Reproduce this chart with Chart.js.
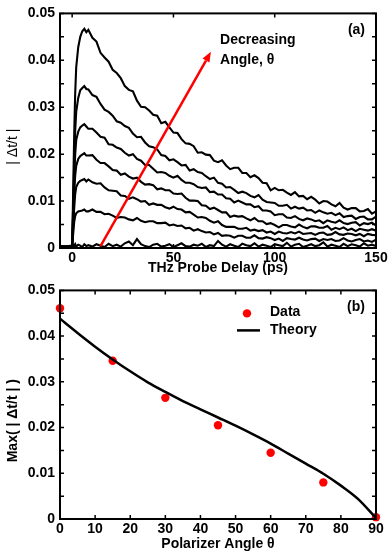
<!DOCTYPE html>
<html>
<head>
<meta charset="utf-8">
<script src="https://cdn.jsdelivr.net/npm/chart.js@4.4.1/dist/chart.umd.min.js"></script>
<style>
  html, body { margin: 0; padding: 0; background: #fff; }
  canvas { display: block; }
</style>
</head>
<body>
<canvas id="panelA" width="391" height="277"></canvas>
<canvas id="panelB" width="391" height="276"></canvas>
<script>
// ---- panel (a): transient traces, |dt/t| in units of 1e-4 ----
const delayPs = [-6, -5, -4, -3, -2, -1, 0, 0.5, 1, 1.5, 2, 3, 4, 5, 6, 7,
  8, 10, 12, 14, 16, 18, 20, 22, 24, 26, 28, 30, 32, 34, 36, 38, 40, 42, 44, 46,
  48, 50, 52, 54, 56, 58, 60, 62, 64, 66, 68, 70, 72, 74, 76, 78, 80, 82, 84, 86,
  88, 90, 92, 94, 96, 98, 100, 102, 104, 106, 108, 110, 112, 114, 116, 118, 120, 122, 124, 126,
  128, 130, 132, 134, 136, 138, 140, 142, 144, 146, 148, 150];

const trace0 = [3, 2, 4, 2, 3, 2, 5, 120, 240, 330, 385, 428, 450, 462, 467, 460,
  465, 448, 440, 416, 406, 397, 380, 373, 362, 345, 337, 334, 314, 301, 300, 293, 284, 282, 266, 269,
  257, 246, 245, 232, 223, 222, 217, 203, 204, 199, 198, 186, 183, 187, 176, 168, 171, 171, 160, 160,
  151, 155, 149, 139, 138, 123, 128, 123, 124, 118, 113, 119, 110, 111, 104, 109, 103, 95, 100, 99,
  93, 89, 96, 86, 82, 85, 85, 78, 79, 83, 73, 78];
const trace15 = [2, 4, 1, 3, 2, 4, 3, 90, 180, 250, 290, 320, 336, 341, 345, 339,
  338, 326, 322, 307, 295, 290, 282, 270, 267, 260, 256, 244, 236, 237, 225, 217, 215, 210, 198, 196,
  187, 189, 183, 176, 177, 165, 168, 162, 160, 153, 147, 150, 139, 137, 129, 130, 124, 117, 120, 117,
  111, 108, 113, 103, 98, 97, 96, 90, 90, 92, 84, 88, 84, 86, 80, 81, 75, 80, 76, 73,
  75, 70, 74, 66, 68, 69, 62, 66, 67, 61, 61, 67];
const trace30 = [3, 1, 3, 2, 4, 2, 3, 75, 145, 200, 230, 248, 257, 261, 264, 259,
  254, 254, 246, 237, 235, 221, 220, 214, 211, 203, 197, 200, 190, 186, 177, 177, 169, 161, 162, 160,
  154, 150, 154, 145, 139, 139, 136, 130, 128, 129, 119, 120, 114, 114, 106, 105, 97, 101, 97, 93,
  93, 87, 89, 80, 80, 78, 70, 72, 72, 65, 64, 68, 62, 59, 63, 61, 57, 59, 53, 59,
  56, 54, 59, 53, 51, 54, 55, 48, 53, 51, 54, 48];
const trace45 = [2, 4, 2, 1, 3, 2, 4, 60, 115, 155, 175, 190, 196, 199, 202, 197,
  197, 198, 188, 181, 181, 174, 166, 165, 156, 159, 152, 148, 150, 141, 135, 136, 134, 125, 127, 123,
  123, 116, 115, 116, 107, 101, 101, 100, 91, 90, 83, 86, 81, 76, 76, 66, 69, 67, 68, 63,
  59, 64, 57, 57, 51, 53, 49, 44, 49, 49, 46, 44, 50, 45, 42, 46, 46, 43, 43, 47,
  39, 43, 40, 44, 38, 41, 36, 41, 39, 37, 40, 37];
const trace60 = [3, 2, 3, 4, 2, 3, 4, 45, 85, 115, 130, 139, 143, 145, 147, 142,
  146, 140, 137, 138, 129, 123, 122, 121, 112, 111, 105, 108, 104, 99, 100, 92, 95, 92, 92, 87,
  84, 88, 83, 82, 76, 77, 71, 65, 66, 64, 58, 54, 57, 49, 45, 45, 45, 41, 41, 43,
  37, 39, 36, 38, 33, 35, 30, 35, 32, 31, 34, 31, 35, 30, 31, 32, 28, 32, 33, 28,
  29, 34, 29, 28, 31, 30, 27, 30, 25, 30, 28, 27];
const trace75 = [2, 3, 1, 3, 2, 4, 3, 30, 55, 68, 74, 78, 79, 80, 82, 78,
  78, 82, 77, 77, 72, 73, 69, 64, 66, 65, 61, 59, 64, 58, 55, 57, 57, 53, 53, 54,
  48, 50, 47, 48, 42, 43, 37, 40, 36, 33, 34, 29, 32, 26, 27, 26, 22, 26, 26, 22,
  22, 27, 21, 20, 23, 21, 17, 20, 15, 21, 19, 18, 22, 18, 16, 19, 20, 15, 19, 17,
  19, 15, 16, 21, 16, 14, 17, 19, 14, 16, 13, 18];
const trace90 = [2, 4, 1, 3, 2, 5, 3, 6, 4, 8, 3, 7, 5, 2, 8, 4,
  6, 3, 8, 5, 2, 9, 4, 7, 3, 10, 14, 6, 19, 8, 4, 2, 7, 9, 3, 5,
  8, 2, 6, 10, 4, 3, 7, 5, 9, 2, 6, 4, 15, 7, 3, 8, 5, 2, 9, 6,
  4, 10, 3, 7, 5, 2, 8, 6, 4, 11, 3, 7, 9, 2, 5, 8, 4, 6, 12, 3,
  7, 5, 2, 9, 4, 8, 6, 3, 10, 5, 7, 4];
const traces = [trace0, trace15, trace30, trace45, trace60, trace75, trace90];

const delayTicks = [0, 50, 100, 150];
const signalTicks = [0, 0.005, 0.01, 0.015, 0.02, 0.025, 0.03, 0.035, 0.04, 0.045, 0.05];
const signalLabels = ['0', '', '0.01', '', '0.02', '', '0.03', '', '0.04', '', '0.05'];

// arrow annotation, in data units (ps, |dt/t|)
const arrowTail = [14, 0.0004];
const arrowTip = [68.5, 0.0418];
const noteAt = [73, 0.0443];
const noteLines = ['Decreasing', 'Angle, \u03b8'];

// ---- panel (b): peak signal vs polarizer angle ----
const angleDeg = [0, 15, 30, 45, 60, 75, 90];
const peakData = [0.0461, 0.0346, 0.0265, 0.0205, 0.0145, 0.0080, 0.0004];
const theoryDeg = [0, 5, 10, 15, 20, 25, 30, 35, 40, 45, 50, 55, 60, 65, 70, 75, 80, 85, 90];
const theoryVal = [0.0438, 0.0407, 0.0377, 0.0349, 0.0323, 0.0299, 0.0278, 0.0258, 0.0240, 0.0222,
  0.0204, 0.0185, 0.0165, 0.0143, 0.0121, 0.0099, 0.0073, 0.0043, 0.0002];
const angleTicks = [0, 10, 20, 30, 40, 50, 60, 70, 80, 90];

const FONT = '"Liberation Sans", Arial, sans-serif';
const RED = '#ff0000';

// Box round the plot area plus short inward ticks on all four sides.
const frameTicks = {
  id: 'frameTicks',
  afterDatasetsDraw(chart, args, opts) {
    const { ctx, chartArea: a, scales: { x, y } } = chart;
    ctx.save();
    ctx.strokeStyle = '#000';
    ctx.lineWidth = 1.5;
    ctx.beginPath();
    x.ticks.forEach(t => {
      const px = x.getPixelForValue(t.value);
      ctx.moveTo(px, a.bottom); ctx.lineTo(px, a.bottom - 4);
      ctx.moveTo(px, a.top); ctx.lineTo(px, a.top + 4);
    });
    y.ticks.forEach(t => {
      const py = y.getPixelForValue(t.value);
      ctx.moveTo(a.left, py); ctx.lineTo(a.left + 4, py);
      ctx.moveTo(a.right, py); ctx.lineTo(a.right - 4, py);
    });
    ctx.stroke();
    ctx.lineWidth = 2;
    ctx.strokeRect(a.left, a.top, a.right - a.left, a.bottom - a.top);
    // panel tag and rotated y title
    ctx.fillStyle = '#000';
    ctx.font = 'bold 14px ' + FONT;
    ctx.textAlign = 'right';
    ctx.textBaseline = 'middle';
    ctx.fillText(opts.tag, a.right - 11, a.top + 17);
    ctx.translate(13, (a.top + a.bottom) / 2 + 16);
    ctx.rotate(-Math.PI / 2);
    ctx.textAlign = 'center';
    ctx.font = (opts.titleBold ? 'bold ' : '') + '14px ' + FONT;
    ctx.fillText(opts.yTitle, 0, 0);
    ctx.restore();
  }
};

const arrowNote = {
  id: 'arrowNote',
  afterDatasetsDraw(chart) {
    const { ctx, scales: { x, y } } = chart;
    const x0 = x.getPixelForValue(arrowTail[0]), y0 = y.getPixelForValue(arrowTail[1]);
    const x1 = x.getPixelForValue(arrowTip[0]), y1 = y.getPixelForValue(arrowTip[1]);
    const ang = Math.atan2(y1 - y0, x1 - x0);
    const hl = 10, hw = 4;
    const bx = x1 - hl * Math.cos(ang), by = y1 - hl * Math.sin(ang);
    ctx.save();
    ctx.strokeStyle = RED; ctx.fillStyle = RED;
    ctx.lineWidth = 2.5;
    ctx.beginPath(); ctx.moveTo(x0, y0); ctx.lineTo(bx, by); ctx.stroke();
    ctx.beginPath();
    ctx.moveTo(x1, y1);
    ctx.lineTo(bx + hw * Math.sin(ang), by - hw * Math.cos(ang));
    ctx.lineTo(bx - hw * Math.sin(ang), by + hw * Math.cos(ang));
    ctx.closePath(); ctx.fill();
    ctx.fillStyle = '#000';
    ctx.font = 'bold 14px ' + FONT;
    ctx.textBaseline = 'middle';
    const tx = x.getPixelForValue(noteAt[0]), ty = y.getPixelForValue(noteAt[1]);
    noteLines.forEach((s, i) => ctx.fillText(s, tx, ty + i * 20));
    ctx.restore();
  }
};

// Two-row legend inside panel (b): red dot "Data", black line "Theory".
const innerLegend = {
  id: 'innerLegend',
  afterDatasetsDraw(chart) {
    const { ctx, chartArea: a } = chart;
    ctx.save();
    ctx.fillStyle = RED;
    ctx.beginPath(); ctx.arc(a.left + 187, a.top + 23, 4.2, 0, Math.PI * 2); ctx.fill();
    ctx.strokeStyle = '#000'; ctx.lineWidth = 2.5;
    ctx.beginPath(); ctx.moveTo(a.left + 177, a.top + 40); ctx.lineTo(a.left + 200, a.top + 40); ctx.stroke();
    ctx.fillStyle = '#000';
    ctx.font = 'bold 14px ' + FONT;
    ctx.textBaseline = 'middle';
    ctx.fillText('Data', a.left + 210, a.top + 22);
    ctx.fillText('Theory', a.left + 210, a.top + 40);
    ctx.restore();
  }
};

function axisFont() { return { family: FONT, size: 14, weight: 'bold' }; }

function yAxis() {
  return {
    min: 0, max: 0.05,
    grid: { display: false, drawTicks: false }, border: { display: false },
    afterBuildTicks: s => { s.ticks = signalTicks.map(v => ({ value: v })); },
    afterFit: s => { s.width = 60; },
    ticks: { color: '#000', font: axisFont(), padding: 5, autoSkip: false,
             callback: (v, i) => signalLabels[i] }
  };
}

function xAxis(min, max, tickVals, title, height) {
  return {
    type: 'linear', min, max,
    grid: { display: false, drawTicks: false }, border: { display: false },
    afterBuildTicks: s => { s.ticks = tickVals.map(v => ({ value: v })); },
    afterFit: s => { s.height = height; },
    ticks: { color: '#000', font: axisFont(), padding: 2, autoSkip: false, maxRotation: 0 },
    title: { display: true, text: title, color: '#000', font: axisFont(), padding: { top: 0, bottom: 0 } }
  };
}

const common = {
  responsive: false, animation: false,
  plugins: { legend: { display: false }, tooltip: { enabled: false } }
};

new Chart(document.getElementById('panelA'), {
  type: 'scatter',
  data: {
    datasets: traces.map(tr => ({
      data: delayPs.map((t, i) => ({ x: t, y: tr[i] / 1e4 })),
      showLine: true, borderColor: '#000', borderWidth: 2.1, pointRadius: 0, tension: 0
    }))
  },
  options: {
    ...common,
    layout: { padding: { left: 0, right: 15, top: 7, bottom: 0 } },
    scales: { x: xAxis(-6, 150, delayTicks, 'THz Probe Delay (ps)', 29), y: yAxis() },
    plugins: { ...common.plugins, frameTicks: { tag: '(a)', yTitle: '| \u0394t/t |', titleBold: false } }
  },
  plugins: [arrowNote, frameTicks]
});

new Chart(document.getElementById('panelB'), {
  type: 'scatter',
  data: {
    datasets: [
      { data: theoryDeg.map((d, i) => ({ x: d, y: theoryVal[i] })), showLine: true,
        borderColor: '#000', borderWidth: 2.5, pointRadius: 0, cubicInterpolationMode: 'monotone' },
      { data: angleDeg.map((d, i) => ({ x: d, y: peakData[i] })), showLine: false,
        pointRadius: 4.2, pointBackgroundColor: RED, pointBorderWidth: 0, clip: false }
    ]
  },
  options: {
    ...common,
    layout: { padding: { left: 0, right: 15, top: 11, bottom: 0 } },
    scales: { x: xAxis(0, 90, angleTicks, 'Polarizer Angle \u03b8', 34), y: yAxis() },
    plugins: { ...common.plugins, frameTicks: { tag: '(b)', yTitle: 'Max( | \u0394t/t | )', titleBold: true } }
  },
  plugins: [innerLegend, frameTicks]
});
</script>
</body>
</html>
